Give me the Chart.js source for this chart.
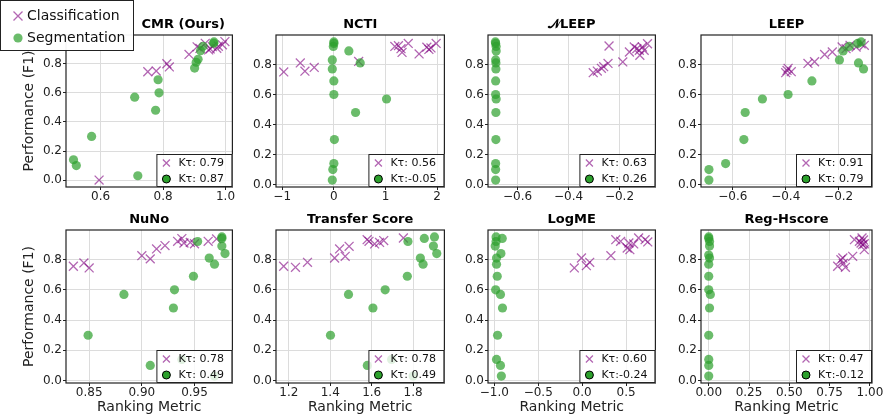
<!DOCTYPE html>
<html>
<head>
<meta charset="utf-8">
<script src="https://cdn.jsdelivr.net/npm/chart.js@4.4.1/dist/chart.umd.min.js"></script>
<style>
  body { margin: 0; background: #fff; }
  #fig { position: relative; width: 884px; height: 418px; overflow: hidden; }
  #fig canvas { position: absolute; }
</style>
</head>
<body>
<div id="fig"></div>
<script>
// ---- data: [ranking metric, performance (F1)] ----
const cmrCls = [[0.595,0.00],[0.751,0.745],[0.778,0.75],[0.812,0.80],[0.82,0.778],[0.883,0.864],[0.909,0.916],[0.918,0.905],[0.935,0.94],[0.946,0.895],[0.951,0.902],[0.958,0.917],[0.972,0.906],[0.977,0.92],[0.99,0.93],[0.998,0.952]];
const cmrSeg = [[0.513,0.14],[0.522,0.10],[0.571,0.30],[0.709,0.57],[0.719,0.03],[0.776,0.48],[0.784,0.69],[0.787,0.60],[0.901,0.77],[0.906,0.81],[0.912,0.83],[0.92,0.89],[0.928,0.92],[0.962,0.94],[0.963,0.95]];

const nctiCls = [[-0.97,0.75],[-0.65,0.81],[-0.56,0.755],[-0.38,0.78],[0.48,0.82],[1.18,0.92],[1.25,0.925],[1.3,0.905],[1.32,0.88],[1.44,0.94],[1.65,0.87],[1.8,0.915],[1.84,0.90],[1.88,0.91],[1.98,0.94]];
const nctiSeg = [[0.0,0.95],[0.0,0.94],[-0.01,0.92],[0.29,0.89],[-0.03,0.83],[0.51,0.81],[-0.03,0.77],[0.0,0.69],[0.0,0.60],[1.02,0.57],[0.42,0.48],[0.01,0.30],[0.0,0.14],[-0.02,0.10],[-0.03,0.03]];

const nleepCls = [[-0.303,0.745],[-0.287,0.756],[-0.271,0.774],[-0.262,0.785],[-0.245,0.807],[-0.241,0.923],[-0.187,0.817],[-0.161,0.883],[-0.142,0.916],[-0.132,0.905],[-0.122,0.894],[-0.12,0.861],[-0.11,0.916],[-0.103,0.894],[-0.09,0.938]];
const nleepSeg = [[-0.687,0.95],[-0.686,0.94],[-0.684,0.92],[-0.684,0.89],[-0.686,0.83],[-0.685,0.81],[-0.685,0.77],[-0.686,0.69],[-0.686,0.60],[-0.684,0.57],[-0.685,0.48],[-0.685,0.30],[-0.686,0.14],[-0.686,0.10],[-0.686,0.03]];

const leepCls = [[-0.40,0.745],[-0.395,0.76],[-0.391,0.774],[-0.379,0.752],[-0.316,0.807],[-0.291,0.818],[-0.253,0.866],[-0.224,0.883],[-0.187,0.916],[-0.172,0.905],[-0.157,0.927],[-0.134,0.916],[-0.115,0.938],[-0.103,0.927]];
const leepSeg = [[-0.115,0.95],[-0.128,0.94],[-0.16,0.92],[-0.183,0.89],[-0.197,0.83],[-0.125,0.81],[-0.106,0.77],[-0.301,0.69],[-0.391,0.60],[-0.488,0.57],[-0.553,0.48],[-0.558,0.30],[-0.627,0.14],[-0.69,0.10],[-0.69,0.03]];

const nunoCls = [[0.835,0.756],[0.845,0.778],[0.85,0.745],[0.90,0.826],[0.908,0.805],[0.914,0.871],[0.922,0.893],[0.934,0.921],[0.938,0.939],[0.94,0.91],[0.946,0.914],[0.95,0.905],[0.963,0.921],[0.971,0.937]];
const nunoSeg = [[0.976,0.95],[0.976,0.94],[0.953,0.92],[0.976,0.89],[0.979,0.84],[0.964,0.81],[0.969,0.77],[0.949,0.69],[0.931,0.60],[0.883,0.57],[0.93,0.48],[0.849,0.30],[0.938,0.14],[0.908,0.10],[0.969,0.03]];

const transferCls = [[1.175,0.756],[1.232,0.749],[1.29,0.782],[1.421,0.811],[1.445,0.871],[1.472,0.822],[1.491,0.888],[1.578,0.932],[1.587,0.921],[1.614,0.904],[1.638,0.914],[1.658,0.926],[1.753,0.943]];
const transferSeg = [[1.903,0.95],[1.854,0.94],[1.775,0.92],[1.898,0.89],[1.914,0.84],[1.835,0.81],[1.848,0.77],[1.772,0.69],[1.665,0.60],[1.488,0.57],[1.606,0.48],[1.401,0.30],[1.696,0.14],[1.579,0.10],[1.80,0.03]];

const logmeCls = [[-0.089,0.745],[-0.008,0.811],[0.048,0.76],[0.086,0.782],[0.327,0.826],[0.383,0.932],[0.438,0.921],[0.513,0.877],[0.532,0.91],[0.543,0.866],[0.587,0.904],[0.643,0.943],[0.717,0.932],[0.747,0.917]];
const logmeSeg = [[-0.98,0.95],[-0.91,0.94],[-0.98,0.92],[-0.99,0.89],[-0.925,0.84],[-0.975,0.81],[-0.975,0.77],[-0.967,0.69],[-0.985,0.60],[-0.93,0.57],[-0.907,0.48],[-0.963,0.30],[-0.975,0.14],[-0.93,0.10],[-0.92,0.03]];

const regCls = [[0.80,0.756],[0.82,0.80],[0.832,0.811],[0.848,0.749],[0.835,0.775],[0.893,0.822],[0.904,0.932],[0.935,0.921],[0.951,0.943],[0.955,0.899],[0.965,0.866],[0.945,0.91],[0.96,0.93],[0.965,0.905]];
const regSeg = [[0.0,0.95],[0.0,0.94],[0.005,0.92],[0.005,0.89],[0.0,0.83],[0.005,0.81],[0.0,0.77],[0.0,0.69],[0.0,0.60],[0.01,0.57],[0.005,0.48],[0.0,0.30],[0.0,0.14],[0.0,0.10],[0.0,0.03]];

const titles = ['CMR (Ours)', 'NCTI', '\u{1D4A9}LEEP', 'LEEP', 'NuNo', 'Transfer Score', 'LogME', 'Reg-Hscore'];
const tauCls = [0.79, 0.56, 0.63, 0.91, 0.78, 0.78, 0.60, 0.47];
const tauSeg = [0.87, -0.05, 0.26, 0.79, 0.49, 0.49, -0.24, -0.12];

const yTicks = [0, 0.2, 0.4, 0.6, 0.8];
const yLabels = ['0.0', '0.2', '0.4', '0.6', '0.8'];
const xTicks = [
  [0.6, 0.8, 1.0], [-1, 0, 1, 2], [-0.6, -0.4, -0.2], [-0.6, -0.4, -0.2],
  [0.85, 0.90, 0.95], [1.2, 1.4, 1.6, 1.8], [-1.0, -0.5, 0.0, 0.5], [0, 0.25, 0.5, 0.75, 1.0]
];
const xLabels = [
  ['0.6', '0.8', '1.0'], ['\u22121', '0', '1', '2'], ['\u22120.6', '\u22120.4', '\u22120.2'], ['\u22120.6', '\u22120.4', '\u22120.2'],
  ['0.85', '0.90', '0.95'], ['1.2', '1.4', '1.6', '1.8'], ['\u22121.0', '\u22120.5', '0.0', '0.5'], ['0.00', '0.25', '0.50', '0.75', '1.00']
];

const clsData = [cmrCls, nctiCls, nleepCls, leepCls, nunoCls, transferCls, logmeCls, regCls];
const segData = [cmrSeg, nctiSeg, nleepSeg, leepSeg, nunoSeg, transferSeg, logmeSeg, regSeg];

// ---- styling / layout ----
const FONT = '"DejaVu Sans", sans-serif';
const CLS_COLOR = 'rgba(128, 0, 128, 0.6)';
const SEG_COLOR = 'rgba(44, 160, 44, 0.7)';
const GRID = '#dcdcdc';
const INK = '#222';

const xRanges = [[0.489, 1.022], [-1.12, 2.14], [-0.716, -0.059], [-0.72, -0.074],
                 [0.828, 0.986], [1.138, 1.951], [-1.072, 0.834], [-0.048, 1.013]];
const cols = [
  { left: 0,   width: 240, yW: 66, padRight: 4 },
  { left: 240, width: 212, yW: 36, padRight: 4 },
  { left: 452, width: 211, yW: 36, padRight: 4 },
  { left: 663, width: 221, yW: 38, padRight: 12 }
];
const rows = [
  { top: 0,   height: 205, padTop: 35, xH: 18 },
  { top: 205, height: 213, padTop: 25, xH: 35 }
];

function tauText(v) {
  return 'K\u03C4:' + (v < 0 ? '-' : ' ') + Math.abs(v).toFixed(2);
}

function drawX(ctx, x, y, r, color) {
  ctx.strokeStyle = color;
  ctx.lineWidth = 1.3;
  ctx.beginPath();
  ctx.moveTo(x - r, y - r); ctx.lineTo(x + r, y + r);
  ctx.moveTo(x - r, y + r); ctx.lineTo(x + r, y - r);
  ctx.stroke();
}

function drawDot(ctx, x, y, r, fill, edge) {
  ctx.beginPath();
  ctx.arc(x, y, r, 0, Math.PI * 2);
  ctx.fillStyle = fill;
  ctx.fill();
  if (edge) { ctx.strokeStyle = edge; ctx.lineWidth = 1; ctx.stroke(); }
}

// frame, panel title, Kτ box and (first panel) the main legend
const panelPlugin = {
  id: 'panel',
  afterDraw(chart, args, opts) {
    const ctx = chart.ctx;
    const a = chart.chartArea;
    ctx.save();
    ctx.strokeStyle = INK;
    ctx.lineWidth = 1.2;
    ctx.strokeRect(a.left, a.top, a.right - a.left, a.bottom - a.top);

    ctx.fillStyle = '#000';
    ctx.font = 'bold 13px ' + FONT;
    ctx.textAlign = 'center';
    ctx.textBaseline = 'middle';
    ctx.fillText(opts.title, (a.left + a.right) / 2 + opts.titleDx, a.top - 10);

    // Kτ box in the lower right corner
    const bw = 76, bh = 33;
    const bx = a.right - bw, by = a.bottom - bh;
    ctx.fillStyle = 'rgba(255,255,255,0.8)';
    ctx.fillRect(bx, by, bw, bh);
    ctx.strokeStyle = INK;
    ctx.lineWidth = 1;
    ctx.strokeRect(bx + 0.5, by + 0.5, bw - 1, bh - 1);
    drawX(ctx, bx + 10, by + 9, 3.5, CLS_COLOR);
    drawDot(ctx, bx + 10, by + 25, 4, '#2ca02c', '#000');
    ctx.fillStyle = '#111';
    ctx.font = '11px ' + FONT;
    ctx.textAlign = 'left';
    ctx.fillText(tauText(opts.tauCls), bx + 22, by + 9);
    ctx.fillText(tauText(opts.tauSeg), bx + 22, by + 25);

    if (opts.mainLegend) {
      ctx.fillStyle = 'rgba(255,255,255,0.95)';
      ctx.fillRect(0, 0, 134, 51);
      ctx.strokeStyle = INK;
      ctx.lineWidth = 1;
      ctx.strokeRect(0.5, 0.5, 133, 50);
      drawX(ctx, 18, 16, 4.5, CLS_COLOR);
      drawDot(ctx, 18, 38, 4.6, SEG_COLOR);
      ctx.fillStyle = '#111';
      ctx.font = '14px ' + FONT;
      ctx.fillText('Classification', 27, 16);
      ctx.fillText('Segmentation', 27, 38);
    }
    ctx.restore();
  }
};

const fig = document.getElementById('fig');

for (let i = 0; i < 8; i++) {
  const col = cols[i % 4];
  const row = rows[Math.floor(i / 4)];
  const canvas = document.createElement('canvas');
  canvas.width = col.width;
  canvas.height = row.height;
  canvas.style.left = col.left + 'px';
  canvas.style.top = row.top + 'px';
  fig.appendChild(canvas);

  const firstCol = i % 4 === 0;
  const bottomRow = i >= 4;
  const yMin = i === 0 ? -0.0475 : -0.016;
  const yMax = i === 0 ? 0.9975 : 0.996;

  new Chart(canvas.getContext('2d'), {
    type: 'scatter',
    data: {
      datasets: [
        {
          label: 'Segmentation',
          data: segData[i].map(p => ({ x: p[0], y: p[1] })),
          pointStyle: 'circle',
          pointRadius: 4.6,
          backgroundColor: SEG_COLOR,
          borderWidth: 0,
          order: 0
        },
        {
          label: 'Classification',
          data: clsData[i].map(p => ({ x: p[0], y: p[1] })),
          pointStyle: 'crossRot',
          pointRadius: 6.3,
          borderColor: CLS_COLOR,
          backgroundColor: CLS_COLOR,
          borderWidth: 1.3,
          order: 1
        }
      ]
    },
    options: {
      responsive: false,
      animation: false,
      events: [],
      layout: { padding: { top: row.padTop, right: col.padRight, left: 0, bottom: 0 } },
      plugins: {
        legend: { display: false },
        tooltip: { enabled: false },
        panel: {
          title: titles[i],
          titleDx: i === 0 ? 34 : 0,
          tauCls: tauCls[i],
          tauSeg: tauSeg[i],
          mainLegend: i === 0
        }
      },
      scales: {
        x: {
          type: 'linear',
          min: xRanges[i][0],
          max: xRanges[i][1],
          afterBuildTicks: s => { s.ticks = xTicks[i].map(v => ({ value: v })); },
          afterFit: s => { s.height = row.xH; s.paddingLeft = 0; s.paddingRight = 0; },
          ticks: {
            callback: (v, idx) => xLabels[i][idx],
            font: { family: FONT, size: 12 },
            color: INK,
            padding: 0,
            maxRotation: 0,
            autoSkip: false
          },
          grid: { color: GRID, tickColor: INK, tickLength: 3, lineWidth: 1 },
          border: { display: false },
          title: {
            display: bottomRow,
            text: 'Ranking Metric',
            color: INK,
            font: { family: FONT, size: 14 },
            padding: { top: 0, bottom: 2 }
          }
        },
        y: {
          type: 'linear',
          min: yMin,
          max: yMax,
          afterBuildTicks: s => { s.ticks = yTicks.map(v => ({ value: v })); },
          afterFit: s => { s.width = col.yW; s.paddingTop = 0; s.paddingBottom = 0; },
          ticks: {
            callback: (v, idx) => yLabels[idx],
            font: { family: FONT, size: 12 },
            color: INK,
            padding: 1,
            autoSkip: false
          },
          grid: { color: GRID, tickColor: INK, tickLength: 3, lineWidth: 1 },
          border: { display: false },
          title: {
            display: firstCol,
            text: 'Performance (F1)',
            color: INK,
            font: { family: FONT, size: 14 },
            padding: { top: 21, bottom: 0 }
          }
        }
      }
    },
    plugins: [panelPlugin]
  });
}
</script>
</body>
</html>
